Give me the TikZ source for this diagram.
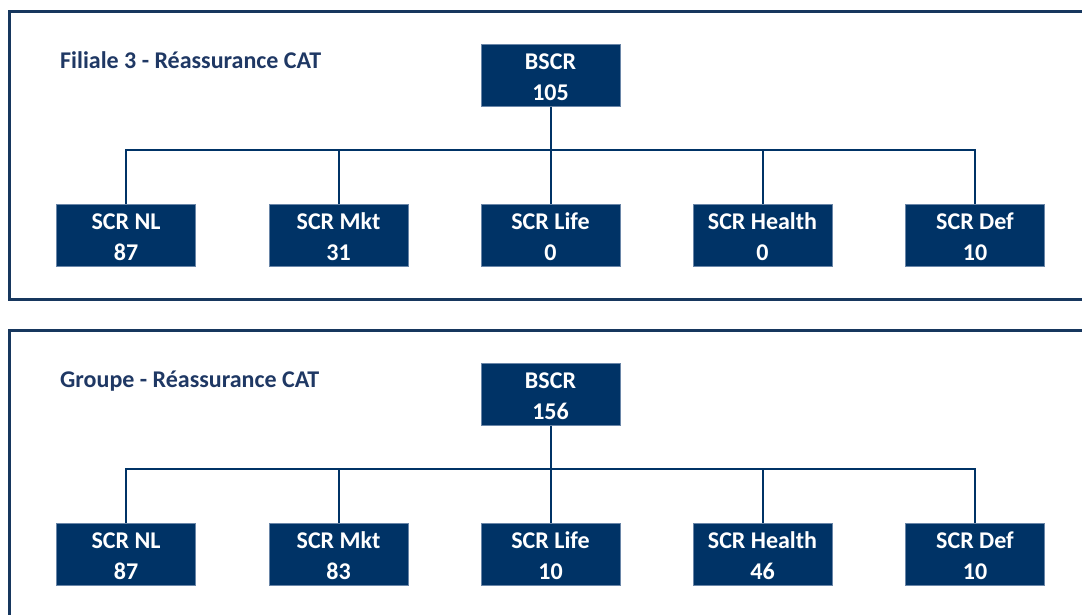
\documentclass[tikz,border=0pt]{standalone}
\usepackage{fontspec}
\setmainfont{Carlito}
\definecolor{navy}{HTML}{003366}
\definecolor{framecol}{HTML}{17375E}
\definecolor{ttl}{HTML}{1F3864}
\definecolor{edgecol}{HTML}{6A86A8}
\tikzset{
  box/.style={fill=navy, draw=edgecol, line width=0.6pt, minimum width=139pt,
    minimum height=62pt, inner sep=0pt, text=white, align=center,
    font=\bfseries\fontsize{24}{31.5}\selectfont},
  conn/.style={draw=navy, line width=2pt},
  panelframe/.style={draw=framecol, line width=3pt},
  paneltitle/.style={anchor=base west, inner sep=0pt, text=ttl,
    font=\bfseries\fontsize{24}{28}\selectfont}
}
\newcommand\tl{\rule{0pt}{19.5pt}}
\newcommand\drawpanel[9]{%
  \begin{scope}[yshift=#2]
    \draw[panelframe] (9.5,11) rectangle (1100,299.5);
    \node[paneltitle] (#1-title) at (60,68.3) {#3};
    \node[box] (#1-bscr) at (550.5,75.5) {\tl BSCR\\#4};
    \node[box] (#1-nl) at (126,235.5) {\tl SCR NL\\#5};
    \node[box] (#1-mkt) at (338.5,235.5) {\tl SCR Mkt\\#6};
    \node[box] (#1-life) at (550.5,235.5) {\tl SCR Life\\#7};
    \node[box] (#1-health) at (762.5,235.5) {\tl SCR Health\\#8};
    \node[box] (#1-def) at (975,235.5) {\tl SCR Def\\#9};
    \coordinate (#1-bar) at (550.5,150);
    \draw[conn] (#1-bscr.south) -- (#1-life.north);
    \draw[conn] (#1-nl.north) |- (#1-bar) -| (#1-def.north);
    \draw[conn] (#1-mkt.north) -- (#1-mkt.north |- #1-bar);
    \draw[conn] (#1-health.north) -- (#1-health.north |- #1-bar);
  \end{scope}}
\begin{document}
\begin{tikzpicture}[x=1pt,y=-1pt]
\clip (0,0) rectangle (1082,614);
\fill[white] (0,0) rectangle (1082,614);
\drawpanel{a}{0pt}{Filiale 3 - Réassurance CAT}{105}{87}{31}{0}{0}{10}
\drawpanel{b}{-319pt}{Groupe - Réassurance CAT}{156}{87}{83}{10}{46}{10}
\end{tikzpicture}
\end{document}
